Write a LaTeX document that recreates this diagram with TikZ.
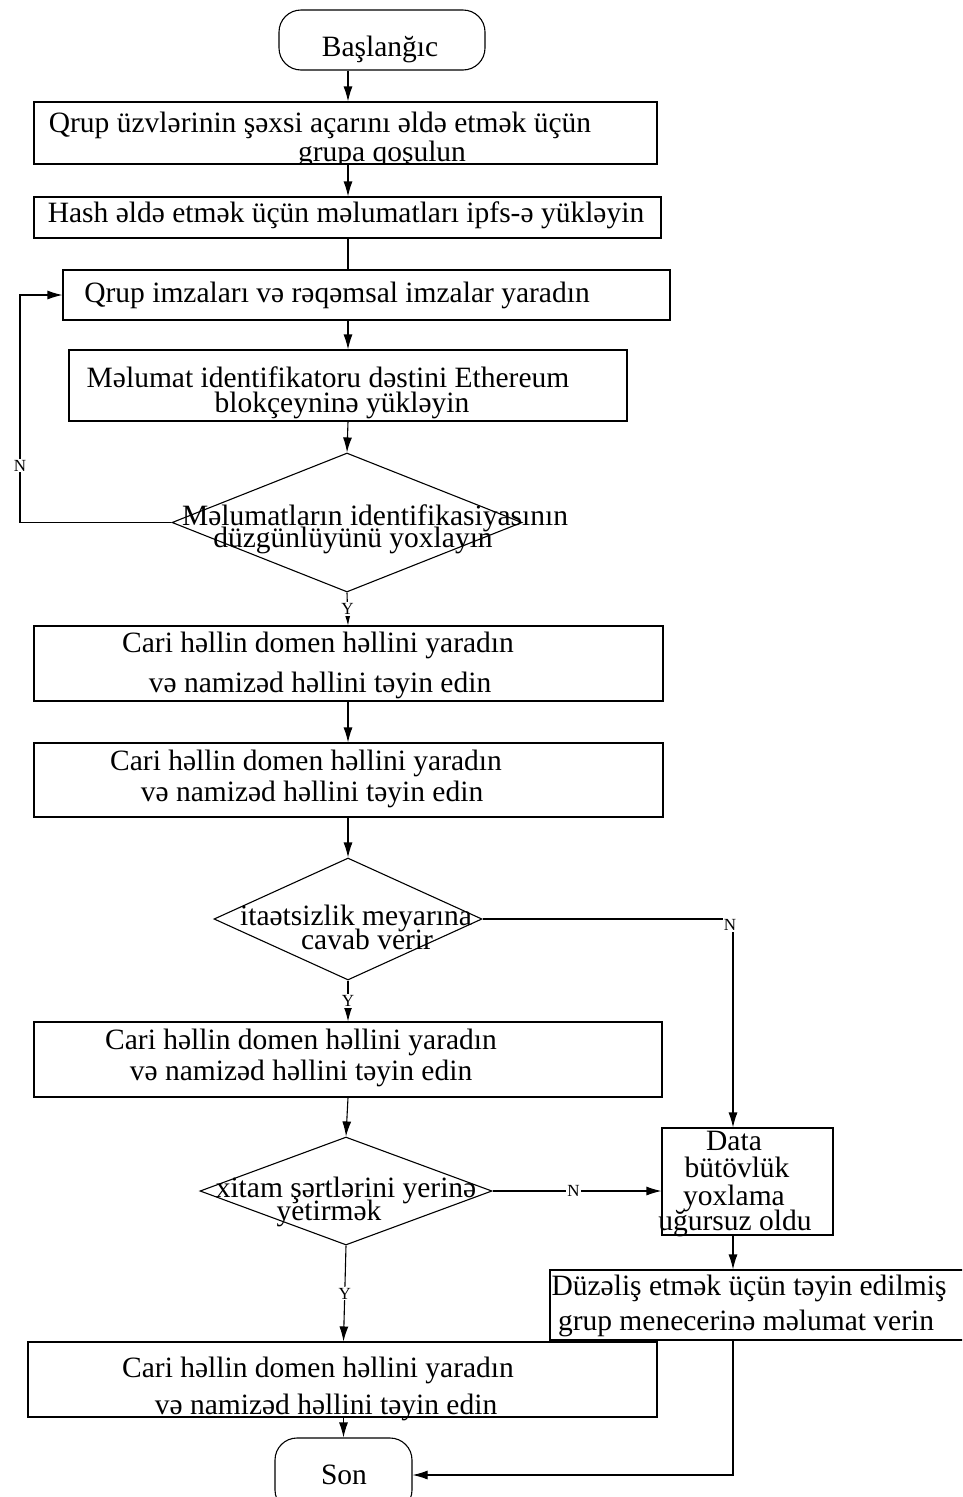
\documentclass[tikz,border=0pt]{standalone}
\usepackage{fontspec}
\setmainfont{Liberation Serif}
\usetikzlibrary{shapes.geometric,arrows.meta}

\begin{document}
\begin{tikzpicture}[x=1pt,y=-1pt,
  line width=1.1pt,
  box/.style={draw,rectangle,inner sep=0pt},
  term/.style={draw,rectangle,rounded corners=22pt,inner sep=0pt},
  cond/.style={draw,diamond,inner sep=0pt},
  txt/.style={anchor=base,inner sep=0pt,font=\fontsize{29.5}{29.5}\selectfont},
  lbl/.style={fill=white,inner sep=1pt,font=\fontsize{17}{17}\selectfont},
  arr/.style={-{Latex[length=15pt,width=9pt]}}]
\path[use as bounding box] (0,0) rectangle (962,1497);
\clip (0,0) rectangle (962,1497);

% guide columns for the connectors
\coordinate (ax) at (348,0);
\coordinate (lx) at (20,0);
\coordinate (rx) at (733,0);

% shapes
\node[term,minimum width=206pt,minimum height=60pt] (start) at (382,40) {};
\node[box,minimum width=623pt,minimum height=62pt] (b1) at (345.5,133) {};
\node[box,minimum width=627pt,minimum height=41pt] (b2) at (347.5,217.5) {};
\node[box,minimum width=607pt,minimum height=50pt] (b3) at (366.5,295) {};
\node[box,minimum width=558pt,minimum height=71pt] (b4) at (348,385.5) {};
\node[cond,minimum width=350pt,minimum height=139pt] (d1) at (347,522.5) {};
\node[box,minimum width=629pt,minimum height=75pt] (b5) at (348.5,663.5) {};
\node[box,minimum width=629pt,minimum height=74pt] (b6) at (348.5,780) {};
\node[cond,minimum width=268pt,minimum height=122pt] (d2) at (348,919) {};
\node[box,minimum width=628pt,minimum height=75pt] (b7) at (348,1059.5) {};
\node[cond,minimum width=292pt,minimum height=108pt] (d3) at (346,1191) {};
\node[box,minimum width=171pt,minimum height=107pt] (data) at (747.5,1181.5) {};
\node[box,minimum width=418pt,minimum height=70pt] (fix) at (759,1305) {};
\node[box,minimum width=629pt,minimum height=75pt] (b8) at (342.5,1379.5) {};
\node[term,minimum width=137pt,minimum height=74pt] (son) at (343.5,1475) {};

% texts
\node[txt] (tstart) at (380,56) {Başlanğıc};
\node[txt] (t1a) at (320,132) {Qrup üzvlərinin şəxsi açarını əldə etmək üçün};
\begin{scope}
  \clip (b1.north west) rectangle (b1.south east);
  \node[txt] (t1b) at (382,161) {grupa qoşulun};
\end{scope}
\node[txt] (t2) at (346,222) {Hash əldə etmək üçün məlumatları ipfs-ə yükləyin};
\node[txt] (t3) at (337,302) {Qrup imzaları və rəqəmsal imzalar yaradın};
\node[txt] (t4a) at (328,387) {Məlumat identifikatoru dəstini Ethereum};
\node[txt] (t4b) at (342,412) {blokçeyninə yükləyin};
\node[txt] (td1a) at (375,525) {Məlumatların identifikasiyasının};
\node[txt] (td1b) at (353,547) {düzgünlüyünü yoxlayın};
\node[txt] (t5a) at (318,652) {Cari həllin domen həllini yaradın};
\node[txt] (t5b) at (320,692) {və namizəd həllini təyin edin};
\node[txt] (t6a) at (306,770) {Cari həllin domen həllini yaradın};
\node[txt] (t6b) at (312,801) {və namizəd həllini təyin edin};
\node[txt] (td2a) at (356,925) {itaətsizlik meyarına};
\node[txt] (td2b) at (367,949) {cavab verir};
\node[txt] (t7a) at (301,1049) {Cari həllin domen həllini yaradın};
\node[txt] (t7b) at (301,1080) {və namizəd həllini təyin edin};
\node[txt] (td3a) at (346,1197) {xitam şərtlərini yerinə};
\node[txt] (td3b) at (329,1220) {yetirmək};
\node[txt] (tda) at (734,1150) {Data};
\node[txt] (tdb) at (737,1177) {bütövlük};
\node[txt] (tdc) at (734,1205) {yoxlama};
\node[txt] (tdd) at (735,1230) {uğursuz oldu};
\node[txt] (tfa) at (749,1295) {Düzəliş etmək üçün təyin edilmiş};
\begin{scope}
  \clip (fix.north west) rectangle (fix.south east);
  \node[txt] (tfb) at (746,1330) {grup menecerinə məlumat verin};
\end{scope}
\node[txt] (t8a) at (318,1377) {Cari həllin domen həllini yaradın};
\node[txt] (t8b) at (326,1414) {və namizəd həllini təyin edin};
\node[txt] (tson) at (344,1484) {Son};

% main flow
\draw[arr] (start.south -| ax) -- (b1.north -| ax);
\draw[arr] (b1.south -| ax) -- (b2.north -| ax);
\draw (b2.south -| ax) -- (b3.north -| ax);
\draw[arr] (b3.south -| ax) -- (b4.north -| ax);
\draw[arr] (b4.south -| ax) -- (d1.north);
\draw[arr] (d1.south) -- node[lbl] (y1) {Y} (b5.north -| ax);
\draw[arr] (b5.south -| ax) -- (b6.north -| ax);
\draw[arr] (b6.south -| ax) -- (d2.north);
\draw[arr] (d2.south) -- node[lbl] (y2) {Y} (b7.north -| ax);
\draw[arr] (b7.south -| ax) -- (d3.north);
\draw[arr] (d3.south) -- node[lbl] (y3) {Y} (b8.north -| son.north);
\draw[arr] (b8.south -| son.north) -- (son.north);

% branches
\draw[arr] (d1.west) -- (d1.west -| lx) -- node[lbl,pos=0.25] (n1) {N} (b3.west -| lx) -- (b3.west);
\draw[arr] (d2.east) -- (d2.east -| rx) -- (data.north -| rx);
\node[lbl] (n2) at (730,925) {N};
\draw[arr] (d3.east) -- node[lbl,pos=0.48] (n3) {N} (d3.east -| data.west);
\draw[arr] (data.south -| rx) -- (fix.north -| rx);
\draw[arr] (fix.south -| rx) |- (son.east);
\end{tikzpicture}
\end{document}
